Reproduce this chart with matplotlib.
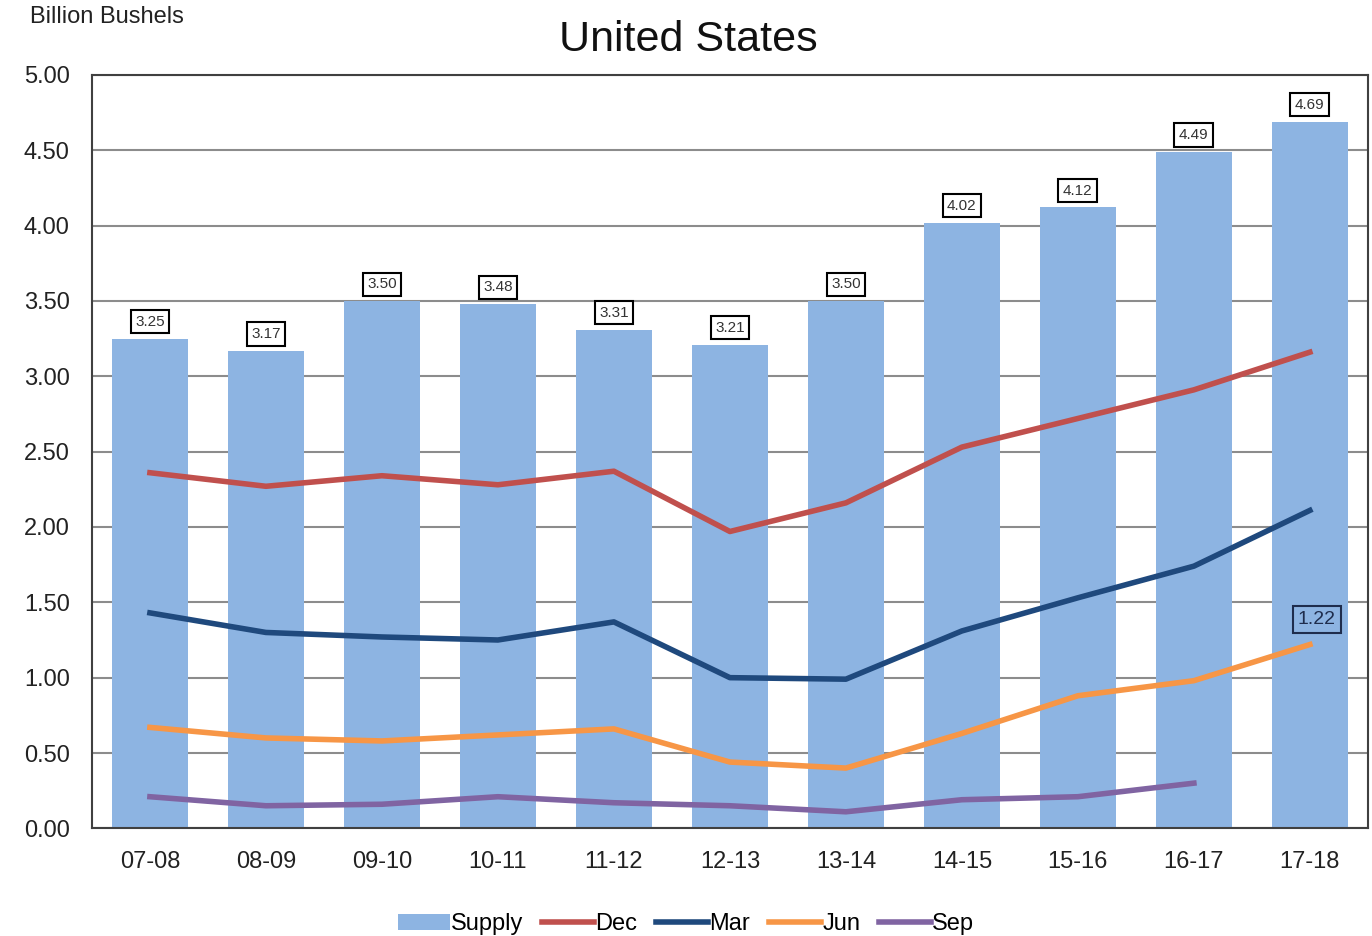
import numpy as np
import matplotlib.pyplot as plt

plt.rcParams['font.family'] = ['Liberation Sans', 'DejaVu Sans']

years = ['07-08', '08-09', '09-10', '10-11', '11-12', '12-13', '13-14',
         '14-15', '15-16', '16-17', '17-18']
supply = [3.25, 3.17, 3.50, 3.48, 3.31, 3.21, 3.50, 4.02, 4.12, 4.49, 4.69]
dec = [2.36, 2.27, 2.34, 2.28, 2.37, 1.97, 2.16, 2.53, 2.72, 2.91, 3.16]
mar = [1.43, 1.30, 1.27, 1.25, 1.37, 1.00, 0.99, 1.31, 1.53, 1.74, 2.11]
jun = [0.67, 0.60, 0.58, 0.62, 0.66, 0.44, 0.40, 0.63, 0.88, 0.98, 1.22]
sep = [0.21, 0.15, 0.16, 0.21, 0.17, 0.15, 0.11, 0.19, 0.21, 0.30]

x = np.arange(len(years))

fig = plt.figure(figsize=(13.72, 9.36), dpi=100)
ax = fig.add_axes([0.067, 0.115, 0.93, 0.805])

bars = ax.bar(x, supply, width=0.65, color='#8DB4E2', label='Supply', zorder=2)
l1, = ax.plot(x, dec, color='#C0504D', lw=4, label='Dec', zorder=3)
l2, = ax.plot(x, mar, color='#1F497D', lw=4, label='Mar', zorder=3)
l3, = ax.plot(x, jun, color='#F79646', lw=4, label='Jun', zorder=3)
l4, = ax.plot(x[:len(sep)], sep, color='#8064A2', lw=4, label='Sep', zorder=3)

# value boxes above each bar
for xi, v in zip(x, supply):
    ax.annotate(f'{v:.2f}', (xi, v), xytext=(0, 7), textcoords='offset points',
                ha='center', va='bottom', fontsize=11, color='#333333',
                bbox=dict(boxstyle='square,pad=0.3', fc='white', ec='black', lw=1.5),
                zorder=5)

ax.annotate(f'{jun[-1]:.2f}', (x[-1], jun[-1]), xytext=(5, 12), textcoords='offset points',
            ha='center', va='bottom', fontsize=14, color='#1F2D4D',
            bbox=dict(boxstyle='square,pad=0.25', fc='none', ec='#1F2D4D', lw=1.5),
            zorder=5)

ax.set_xlim(-0.5, len(years) - 0.5)
ax.set_ylim(0, 5)
ax.set_yticks(np.arange(0, 5.01, 0.5))
ax.set_yticklabels([f'{t:.2f}' for t in np.arange(0, 5.01, 0.5)])
ax.set_xticks(x)
ax.set_xticklabels(years)
ax.tick_params(axis='both', labelsize=17, colors='#222222', length=0)
ax.tick_params(axis='x', pad=16)
ax.tick_params(axis='y', pad=16)
ax.yaxis.grid(True, color='#8C8C8C', lw=1.5, zorder=0)
ax.set_axisbelow(True)
for s in ax.spines.values():
    s.set_color('#404040')
    s.set_linewidth(1.5)

fig.text(0.022, 0.982, 'Billion Bushels', fontsize=17, ha='left', va='center', color='#222222')
fig.text(0.502, 0.957, 'United States', fontsize=31, ha='center', va='center', color='#111111')

fig.legend([bars, l1, l2, l3, l4], ['Supply', 'Dec', 'Mar', 'Jun', 'Sep'],
           loc='lower center', bbox_to_anchor=(0.5, -0.022), ncol=5, frameon=False,
           fontsize=17, handlelength=2.2, handletextpad=0.05, columnspacing=0.8)

fig.savefig('out.png', dpi=100)
